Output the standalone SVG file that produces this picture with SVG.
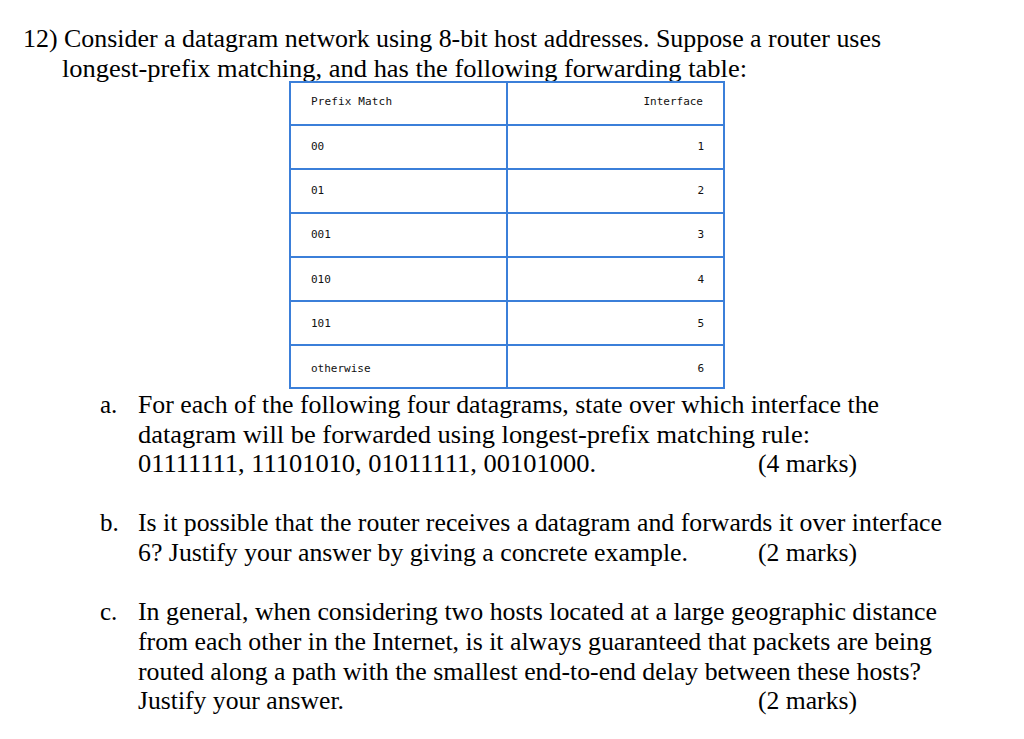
<svg xmlns="http://www.w3.org/2000/svg" width="1024" height="739" viewBox="0 0 1024 739">
<style>
.t{font-family:"Liberation Serif",serif;font-size:25px;fill:#000}
.m{font-family:"DejaVu Sans Mono",monospace;font-size:11px;fill:#111}
.r{text-anchor:end}
.g{stroke:#3b7fd9;stroke-width:2;fill:none}
</style>
<rect width="1024" height="739" fill="#fff"/>
<g id="question">
<text class="t" x="23" y="47" textLength="858" lengthAdjust="spacingAndGlyphs">12) Consider a datagram network using 8-bit host addresses. Suppose a router uses</text>
<text class="t" x="62" y="77" textLength="685" lengthAdjust="spacingAndGlyphs">longest-prefix matching, and has the following forwarding table:</text>
</g>
<g id="table">
<rect class="g" x="290" y="82" width="434" height="306"/>
<line class="g" x1="507" y1="82" x2="507" y2="388"/>
<line class="g" x1="290" y1="125" x2="724" y2="125"/>
<line class="g" x1="290" y1="169" x2="724" y2="169"/>
<line class="g" x1="290" y1="213" x2="724" y2="213"/>
<line class="g" x1="290" y1="257" x2="724" y2="257"/>
<line class="g" x1="290" y1="301" x2="724" y2="301"/>
<line class="g" x1="290" y1="345" x2="724" y2="345"/>
<text class="m" x="311" y="105" textLength="81">Prefix Match</text>
<text class="m r" x="703" y="105">Interface</text>
<text class="m" x="311" y="150">00</text><text class="m r" x="704" y="150">1</text>
<text class="m" x="311" y="194">01</text><text class="m r" x="704" y="194">2</text>
<text class="m" x="311" y="238">001</text><text class="m r" x="704" y="238">3</text>
<text class="m" x="311" y="283">010</text><text class="m r" x="704" y="283">4</text>
<text class="m" x="311" y="327">101</text><text class="m r" x="704" y="327">5</text>
<text class="m" x="311" y="372">otherwise</text><text class="m r" x="704" y="372">6</text>
</g>
<g id="parts">
<text class="t" x="100" y="413">a.</text>
<text class="t" x="138" y="413" textLength="741" lengthAdjust="spacingAndGlyphs">For each of the following four datagrams, state over which interface the</text>
<text class="t" x="138" y="443" textLength="672" lengthAdjust="spacingAndGlyphs">datagram will be forwarded using longest-prefix matching rule:</text>
<text class="t" x="138" y="472" textLength="458" lengthAdjust="spacingAndGlyphs">01111111, 11101010, 01011111, 00101000.</text>
<text class="t" x="758" y="472" textLength="99" lengthAdjust="spacingAndGlyphs">(4 marks)</text>
<text class="t" x="100" y="531">b.</text>
<text class="t" x="138" y="531" textLength="804" lengthAdjust="spacingAndGlyphs">Is it possible that the router receives a datagram and forwards it over interface</text>
<text class="t" x="138" y="561" textLength="550" lengthAdjust="spacingAndGlyphs">6? Justify your answer by giving a concrete example.</text>
<text class="t" x="758" y="561" textLength="99" lengthAdjust="spacingAndGlyphs">(2 marks)</text>
<text class="t" x="100" y="620">c.</text>
<text class="t" x="138" y="620" textLength="799" lengthAdjust="spacingAndGlyphs">In general, when considering two hosts located at a large geographic distance</text>
<text class="t" x="138" y="650" textLength="794" lengthAdjust="spacingAndGlyphs">from each other in the Internet, is it always guaranteed that packets are being</text>
<text class="t" x="138" y="680" textLength="783" lengthAdjust="spacingAndGlyphs">routed along a path with the smallest end-to-end delay between these hosts?</text>
<text class="t" x="138" y="709" textLength="206" lengthAdjust="spacingAndGlyphs">Justify your answer.</text>
<text class="t" x="758" y="709" textLength="99" lengthAdjust="spacingAndGlyphs">(2 marks)</text>
</g>
</svg>
